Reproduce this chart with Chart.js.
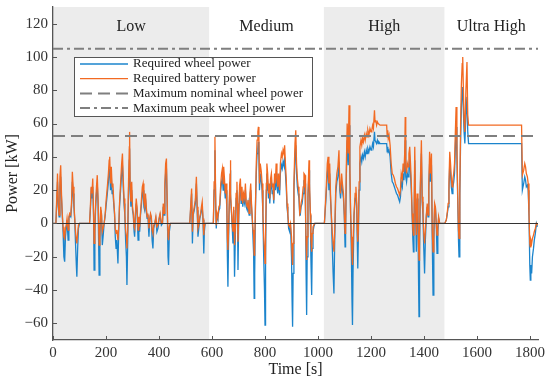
<!DOCTYPE html>
<html><head><meta charset="utf-8">
<script src="https://cdn.jsdelivr.net/npm/chart.js@4"></script>
<style>html,body{margin:0;padding:0;background:#fff}</style>
</head><body>
<canvas id="c" width="550" height="382"></canvas>
<script>
// ---- data ----
const times = [
 0,11,13,17,20,23,26,29,32,35,38,41,44,47,50,53,57,60,63,67,70,73,76,79,82,85,88,90,93,96,100,
 138,141,144,147,150,153,155,158,161,164,167,170,174,177,180,183,186,189,193,197,200,205,209,212,214,217,220,223,226,229,232,235,238,241,245,248,251,255,259,262,265,268,271,274,277,279,282,285,288,289,291,294,297,300,303,306,308,311,314,317,321,324,327,330,334,337,340,343,346,349,352,355,358,362,365,368,371,374,377,380,384,388,392,396,400,404,409,413,416,419,422,425,428,431,434,436,439,443,
 516,520,523,526,529,533,537,541,544,547,550,554,557,560,563,566,569,571,574,605,
 608,611,614,616,619,622,626,629,633,636,639,642,644,647,650,653,656,658,660,662,665,668,669,671,674,677,679,682,685,688,691,694,696,698,701,704,707,710,713,716,719,723,726,729,733,736,740,743,746,749,752,755,757,759,761,764,767,770,773,775,777,779,782,786,789,792,795,798,800,802,805,807,810,813,816,818,821,824,827,830,833,836,839,842,845,848,851,855,858,862,865,868,871,874,877,880,883,886,889,893,896,900,902,904,906,909,913,916,919,922,925,928,931,933,936,940,944,947,951,953,955,957,959,962,966,968,971,973,976,978,981,984,988,1024,
 1030,1035,1038,1041,1044,1047,1050,1054,1057,1060,1063,1067,1071,1075,1079,1082,1085,1089,1092,1096,1099,1102,1104,1107,1110,1114,1117,1120,1123,1126,1128,1130,1132,1136,1140,1143,1146,1148,1150,1152,1155,1158,1162,1165,1168,1171,1175,1178,1182,1185,1188,1192,1196,1200,1203,1206,1209,1213,1215,1218,1221,1224,1227,1230,1234,1259,1261,1263,1265,1268,1272,1276,1280,1284,1288,1292,1296,1300,1304,1308,1311,1314,1318,1321,1324,1327,1329,1331,1334,1337,1340,1343,1346,1349,1352,1355,1358,1360,1362,1365,1368,1371,1374,1377,1379,1381,1383,1386,1390,1393,1396,1399,1402,1405,1409,1412,1415,1418,1421,1424,1428,1431,1434,1437,1440,1443,1446,1449,1452,1455,1459,1478,
 1484,1488,1491,1494,1497,1500,1503,1506,1509,1512,1515,1518,1521,1524,1527,1530,1532,1535,1538,1541,1544,1546,1548,1551,1554,1558,1562,1565,1568,1768,1771,1776,1780,1783,1786,1790,1793,1796,1799,1801,1803,1806,1809,1813,1816,1820,1824,1828
];
const wheelPower = [
 0,0,8,25,10,4,22,28,15,5,-5,-20,-23,-8,-3,2,-10,3,5,4,10,25,18,10,2,-12,-25,-32,-15,-3,0,
 0,8,18,15,22,5,-28,-5,10,18,24,12,-31,-10,8,5,-13,-8,0,5,10,18,25,32,33,20,28,18,20,12,6,-8,-15,-10,-24,-5,10,20,30,35,22,12,5,-10,-20,-37,-10,20,38,45,20,10,20,8,5,-5,-8,5,12,8,-10,3,-5,5,12,18,20,10,8,15,8,3,5,-8,2,5,3,-10,-15,-3,0,3,-5,-3,2,5,-1,0,10,5,20,30,33,10,-20,-25,-5,0,
 0,10,18,-12,5,8,12,24,8,-8,-3,3,5,8,10,2,-18,-5,0,0,
 20,44,10,-3,5,3,8,9,20,25,27,20,28,22,15,20,8,-20,-38,-15,10,25,32,15,5,-5,-12,8,-32,-8,15,20,10,-28,5,19,22,12,18,10,15,12,20,10,8,12,5,15,20,10,2,-10,-18,-45,-30,10,30,42,45,49,40,20,30,25,20,5,-20,-40,-61,-20,20,30,25,15,20,12,22,25,18,20,12,25,20,30,22,18,25,17,30,35,33,37,35,40,30,22,10,5,-3,-5,0,-20,-45,-62,-30,20,40,47,30,22,18,15,5,5,10,12,18,25,24,5,-30,-55,-20,15,32,20,5,-20,-43,-15,-5,-2,0,0,
 15,30,34,20,30,15,5,-15,-30,-42,-10,18,25,28,37,20,15,25,20,15,5,-14,-5,30,50,35,59,30,5,-20,-45,-61,-30,5,15,18,10,-10,-27,-10,20,36,40,37,41,39,43,40,44,42,45,43,46,44,45,48,46,55,50,50,48,50,48,49,48,48,43,46,43,44,40,30,25,24,22,20,18,17,15,13,16,25,22,30,26,35,50,28,25,30,28,35,38,30,20,5,-10,-17,-8,38,10,-17,15,5,-30,-56,-20,20,42,13,5,-15,-30,-10,5,10,4,20,36,25,35,-10,-43,-10,10,9,0,-18,-5,3,0,0,
 2,6,10,20,36,30,22,18,22,25,30,45,58,40,15,-10,-20,17,50,70,80,82,70,55,48,65,76,55,48,48,20,24,28,26,22,23,20,5,-25,-34,-25,-30,-20,-15,-10,-6,0,-2
];
const batteryPower = [
 0,0,10,30,12,5,28,35,18,6,-2,-8,-9,-3,-1,3,-4,4,6,5,13,31,22,12,3,-5,-10,-12,-6,-1,0,
 0,10,22,18,27,6,-12,-2,13,22,29,15,-13,-4,10,6,-5,-3,0,6,13,22,30,38,40,24,34,22,24,14,7,-3,-6,-4,-10,-2,12,24,36,42,27,15,6,-4,-8,-15,-4,25,46,55,24,13,25,10,6,-2,-3,6,15,10,-4,4,-2,6,15,22,24,13,10,18,10,4,6,-3,3,6,4,-4,-6,-1,0,4,-2,-1,3,6,0,0,12,6,24,36,39,12,-8,-10,-2,0,
 0,12,21,-5,6,10,14,28,10,-3,-1,4,6,10,13,3,-7,-2,0,0,
 25,52,12,-1,6,4,10,11,24,30,33,24,34,27,18,24,10,-9,-16,-6,13,30,38,18,6,-2,-5,10,-13,-3,18,25,12,-11,6,23,27,14,22,12,18,15,24,12,10,14,6,18,24,12,3,-4,-7,-19,-12,12,36,50,55,58,48,24,36,31,24,6,-8,-16,-24,-8,24,36,30,18,24,15,27,30,22,24,14,30,24,36,27,22,30,20,36,42,40,44,42,47,36,27,12,6,-1,-2,0,-8,-18,-25,-12,24,48,56,36,27,22,18,6,7,12,15,22,30,29,6,-12,-22,-8,18,38,24,6,-8,-17,-6,-2,-1,0,0,
 18,36,40,24,36,18,6,-6,-12,-17,-4,22,30,34,44,24,18,30,24,18,6,-6,-2,36,60,42,71,36,6,-8,-18,-25,-12,6,18,22,12,-4,-11,-4,25,46,50,47,51,49,53,50,54,52,56,53,57,55,56,59,57,68,61,62,59,61,60,60,59,59,52,56,51,53,47,36,30,29,27,24,22,21,19,17,20,30,27,36,31,42,64,34,30,36,34,42,46,36,24,6,-4,-7,-3,46,12,-7,18,6,-12,-22,-8,24,50,16,6,-6,-12,-4,6,12,5,24,43,30,42,-4,-17,-4,12,10,0,-7,-2,4,0,0,
 2,7,12,24,43,36,27,22,27,30,36,54,70,48,18,-4,-9,20,60,84,96,100,84,62,55,80,97,65,59,59,29,32,36,34,30,28,24,6,-12,-14,-10,-12,-9,-7,-5,-3,0,-1
];
const phaseNames = ['Low', 'Medium', 'High', 'Ultra High'];
const phaseStart = [0, 589, 1022, 1477];
const phaseEnd = [589, 1022, 1477, 1830];
const phaseShaded = [true, false, true, false];
const nominalWheelPower = 52.5;
const peakWheelPower = 105;
const xTicks = [0, 200, 400, 600, 800, 1000, 1200, 1400, 1600, 1800];
const yTicks = [-60, -40, -20, 0, 20, 40, 60, 80, 100, 120];
const seriesNames = ['Required wheel power', 'Required battery power', 'Maximum nominal wheel power', 'Maximum peak wheel power'];

// ---- styles ----
const BLUE = '#1b84cc', ORANGE = '#f26a22', GRAY = '#7f7f7f';
const FONT = '"Liberation Serif", "DejaVu Serif", serif';
const DASH = [12, 6], DASHDOT = [10, 4, 3, 4];

const xMin = 0, xMax = 1830;
const refLine = v => [{x: xMin, y: v}, {x: xMax, y: v}];

const decor = {
  id: 'decor',
  beforeDraw(chart) {
    const {ctx, chartArea: a, scales: {x, y}} = chart;
    ctx.save();
    ctx.fillStyle = '#ececec';
    phaseStart.forEach((s, i) => {
      if (!phaseShaded[i]) return;
      const x0 = x.getPixelForValue(s), x1 = x.getPixelForValue(phaseEnd[i]);
      ctx.fillRect(x0, a.top, x1 - x0, a.bottom - a.top);
    });
    ctx.fillStyle = '#222';
    ctx.font = '16px ' + FONT;
    ctx.textAlign = 'center';
    ctx.textBaseline = 'middle';
    phaseNames.forEach((n, i) => {
      ctx.fillText(n, x.getPixelForValue((phaseStart[i] + phaseEnd[i]) / 2), y.getPixelForValue(118));
    });
    ctx.restore();
  },
  afterDatasetsDraw(chart) {
    const {ctx, chartArea: a, scales: {x, y}} = chart;
    ctx.save();
    const y0 = Math.round(y.getPixelForValue(0)) + 0.5;
    ctx.strokeStyle = '#333';
    ctx.lineWidth = 1;
    ctx.beginPath(); ctx.moveTo(a.left, y0); ctx.lineTo(a.right, y0); ctx.stroke();
    ctx.strokeStyle = '#555';
    ctx.beginPath();
    xTicks.forEach(t => { const px = Math.round(x.getPixelForValue(t)) + 0.5; ctx.moveTo(px, a.bottom); ctx.lineTo(px, a.bottom - 4); });
    yTicks.forEach(t => { const py = Math.round(y.getPixelForValue(t)) + 0.5; ctx.moveTo(a.left, py); ctx.lineTo(a.left + 4, py); });
    ctx.stroke();
    ctx.restore();
  },
  afterDraw(chart) {
    const {ctx, chartArea: a} = chart;
    const bx = a.left + 21, by = a.top + 50, bw = 238, bh = 59;
    ctx.save();
    ctx.fillStyle = '#fff';
    ctx.fillRect(bx, by, bw, bh);
    ctx.strokeStyle = '#555';
    ctx.lineWidth = 1;
    ctx.strokeRect(Math.round(bx) + 0.5, Math.round(by) + 0.5, bw, bh);
    const styles = [
      {c: BLUE, w: 1.3, d: []}, {c: ORANGE, w: 1.3, d: []},
      {c: GRAY, w: 2, d: DASH}, {c: GRAY, w: 2, d: DASHDOT}
    ];
    ctx.font = '13px ' + FONT;
    ctx.textBaseline = 'middle';
    ctx.textAlign = 'left';
    seriesNames.forEach((n, i) => {
      const ly = by + 7 + i * 14.7;
      ctx.strokeStyle = styles[i].c;
      ctx.lineWidth = styles[i].w;
      ctx.setLineDash(styles[i].d);
      ctx.beginPath(); ctx.moveTo(bx + 6, ly); ctx.lineTo(bx + 54, ly); ctx.stroke();
      ctx.setLineDash([]);
      ctx.fillStyle = '#222';
      ctx.fillText(n, bx + 59, ly);
    });
    ctx.restore();
  }
};

new Chart(document.getElementById('c'), {
  type: 'line',
  data: {
    datasets: [
      {label: seriesNames[0], data: times.map((t, i) => ({x: t, y: wheelPower[i]})), borderColor: BLUE, borderWidth: 1.3, pointRadius: 0, order: 2},
      {label: seriesNames[1], data: times.map((t, i) => ({x: t, y: batteryPower[i]})), borderColor: ORANGE, borderWidth: 1.3, pointRadius: 0, order: 1},
      {label: seriesNames[2], data: refLine(nominalWheelPower), borderColor: GRAY, borderWidth: 2, borderDash: DASH, pointRadius: 0, order: 0},
      {label: seriesNames[3], data: refLine(peakWheelPower), borderColor: GRAY, borderWidth: 2, borderDash: DASHDOT, pointRadius: 0, order: 0}
    ]
  },
  options: {
    responsive: false,
    animation: false,
    events: [],
    layout: {padding: {top: 7, right: 12, left: 0, bottom: 0}},
    plugins: {legend: {display: false}, tooltip: {enabled: false}},
    scales: {
      x: {
        type: 'linear', min: xMin, max: xMax,
        afterBuildTicks: s => { s.ticks = xTicks.map(v => ({value: v})); },
        afterFit: s => { s.height = 42; s.paddingLeft = 0; s.paddingRight = 0; },
        grid: {display: false, drawTicks: false},
        border: {display: true, color: '#555', width: 1.3},
        ticks: {padding: 4, color: '#333', font: {family: FONT, size: 15}, maxRotation: 0, autoSkip: false, callback: v => String(v)},
        title: {display: true, text: 'Time [s]', color: '#222', font: {family: FONT, size: 16}, padding: {top: 0, bottom: 3}}
      },
      y: {
        type: 'linear', min: -70, max: 130,
        afterBuildTicks: s => { s.ticks = yTicks.map(v => ({value: v})); },
        afterFit: s => { s.width = 53; s.paddingTop = 0; s.paddingBottom = 0; },
        grid: {display: false, drawTicks: false},
        border: {display: true, color: '#555', width: 1.3},
        ticks: {padding: 5, color: '#333', font: {family: FONT, size: 15}, callback: v => (v < 0 ? '\u2212' + Math.abs(v) : String(v))},
        title: {display: true, text: 'Power [kW]', color: '#222', font: {family: FONT, size: 16}, padding: {top: 3, bottom: 0}}
      }
    }
  },
  plugins: [decor]
});
</script>
</body></html>
